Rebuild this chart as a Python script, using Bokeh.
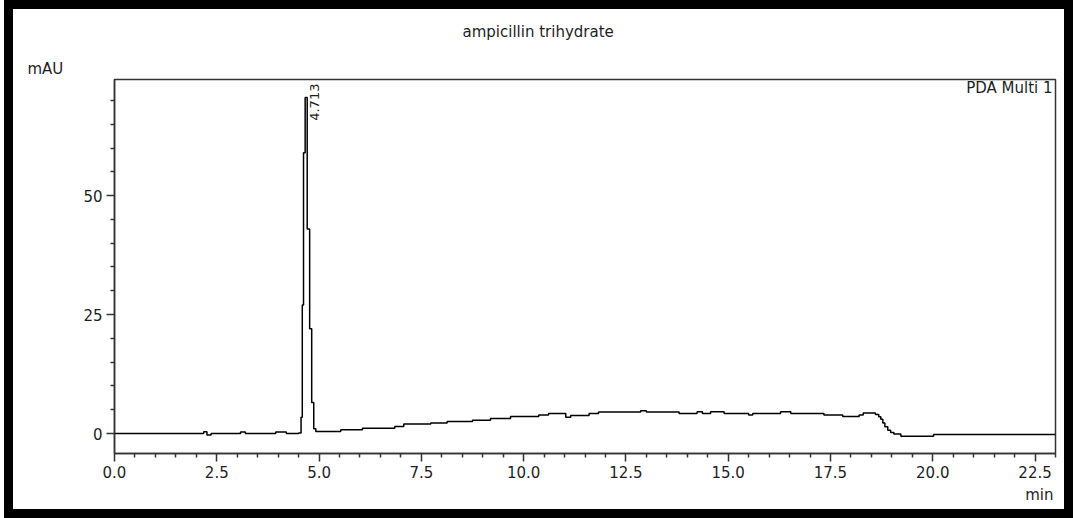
import math
from bokeh.plotting import figure
from bokeh.models import (FixedTicker, PrintfTickFormatter, Label, Title, Range1d)
from bokeh.embed import file_html
from bokeh.resources import INLINE

# ---- data ----
time_min = [0.0, 2.18, 2.26, 2.36, 3.08, 3.20, 3.94, 4.20, 4.50,
            4.56, 4.59, 4.62, 4.66, 4.71, 4.77, 4.82, 4.87, 4.92,
            5.53, 6.06, 6.85, 7.07, 7.73, 8.13, 8.75, 9.19, 9.68,
            10.37, 10.61, 11.03, 11.15, 11.60, 11.83, 12.86, 13.00,
            13.80, 14.24, 14.37, 14.57, 14.90, 15.50, 15.60, 16.28,
            16.53, 17.34, 17.80, 18.20, 18.30, 18.60, 18.68, 18.73,
            18.78, 18.83, 18.90, 18.97, 19.05, 19.22, 20.02, 23.0]
mau = [0.0, 0.35, -0.3, 0.0, 0.3, 0.0, 0.3, 0.0, 0.1,
       3.4, 27.0, 59.0, 70.6, 43.0, 22.0, 6.5, 1.0, 0.4,
       0.8, 1.1, 1.5, 2.0, 2.2, 2.5, 2.8, 3.15, 3.6,
       3.9, 4.2, 3.4, 3.8, 4.2, 4.5, 4.8, 4.5,
       4.2, 4.6, 4.2, 4.6, 4.2, 3.9, 4.2, 4.6,
       4.2, 3.9, 3.6, 3.9, 4.3, 4.0, 3.5, 3.0,
       2.2, 1.4, 0.7, 0.2, -0.1, -0.6, -0.2, -0.2]

peak_time = 4.713
peak_height = 70.6
peak_label = "4.713"

x_major = [0.0, 2.5, 5.0, 7.5, 10.0, 12.5, 15.0, 17.5, 20.0, 22.5]
x_minor = [v / 2 for v in range(0, 47) if v % 5 != 0]
y_major = [0, 25, 50]
y_minor = [-5, 5, 10, 15, 20, 30, 35, 40, 45, 55, 60, 65, 70]

title_text = "ampicillin trihydrate"
y_unit = "mAU"
x_unit = "min"
channel = "PDA Multi 1"

# figure placed at page (13, 9) inside a CSS black frame
OX, OY = 13, 9
W, H = 1051, 500
FL = 114 - OX          # frame left in canvas px
FR = 1055 - OX         # frame right
FT = 79 - OY           # frame top
FB = 453 - OY          # frame bottom
FONT = "DejaVu Sans"
TXT = "#1e1e1e"

p = figure(width=W, height=H, output_backend="svg", toolbar_location=None,
           title=None,
           x_range=Range1d(0, 23.0), y_range=Range1d(-4.2, 74.4),
           min_border_left=FL, min_border_right=W - FR,
           min_border_top=FT, min_border_bottom=H - FB)
p.margin = (OY, 0, 0, OX)
p.styles = {"box-shadow": "0 0 0 9px black",
            "outline": "2px solid #444444",
            "outline-offset": "-5px"}
p.background_fill_color = "white"
p.border_fill_color = "white"
p.outline_line_color = "#333333"
p.outline_line_width = 1.5
p.xgrid.visible = False
p.ygrid.visible = False

p.step(time_min, mau, mode="after", line_color="black", line_width=1.5)

for ax in (p.xaxis[0], p.yaxis[0]):
    ax.axis_line_color = "#333333"
    ax.axis_line_width = 1.5
    ax.major_tick_line_color = "#333333"
    ax.minor_tick_line_color = "#333333"
    ax.major_tick_line_width = 1.5
    ax.minor_tick_line_width = 1.5
    ax.major_tick_in = 0
    ax.major_tick_out = 8
    ax.minor_tick_in = 0
    ax.minor_tick_out = 4
    ax.major_label_text_font = FONT
    ax.major_label_text_font_size = "15px"
    ax.major_label_text_color = TXT
    ax.major_label_standoff = 4

p.xaxis[0].ticker = FixedTicker(ticks=x_major, minor_ticks=x_minor)
p.xaxis[0].formatter = PrintfTickFormatter(format="%.1f")
p.yaxis[0].ticker = FixedTicker(ticks=y_major, minor_ticks=y_minor)
p.yaxis[0].formatter = PrintfTickFormatter(format="%d")

# peak annotation
p.add_layout(Label(x=peak_time, y=peak_height, text=peak_label, angle=math.pi / 2,
                   x_offset=3, y_offset=14, text_align="right", text_baseline="top",
                   text_font=FONT, text_font_size="13px", text_color=TXT))

# channel label inside the frame
p.add_layout(Label(x=1052 - OX, y=87 - OY, x_units="canvas", y_units="canvas",
                   text=channel, text_align="right", text_baseline="middle",
                   text_font=FONT, text_font_size="15px", text_color=TXT))

def side_title(text, side, x_page, align, standoff, valign="bottom"):
    if align == "left":
        off = x_page - 114
    else:
        off = 1055 - x_page
    t = Title(text=text, align=align, offset=off, standoff=standoff,
              vertical_align=valign,
              text_font=FONT, text_font_size="15px", text_font_style="normal",
              text_color=TXT)
    p.add_layout(t, side)

side_title(y_unit, "above", 27, "left", 4)
side_title(title_text, "above", 462, "left", 25, valign="top")
side_title(x_unit, "below", 1053, "right", 7)

open("out.html", "w").write(file_html(p, INLINE))
